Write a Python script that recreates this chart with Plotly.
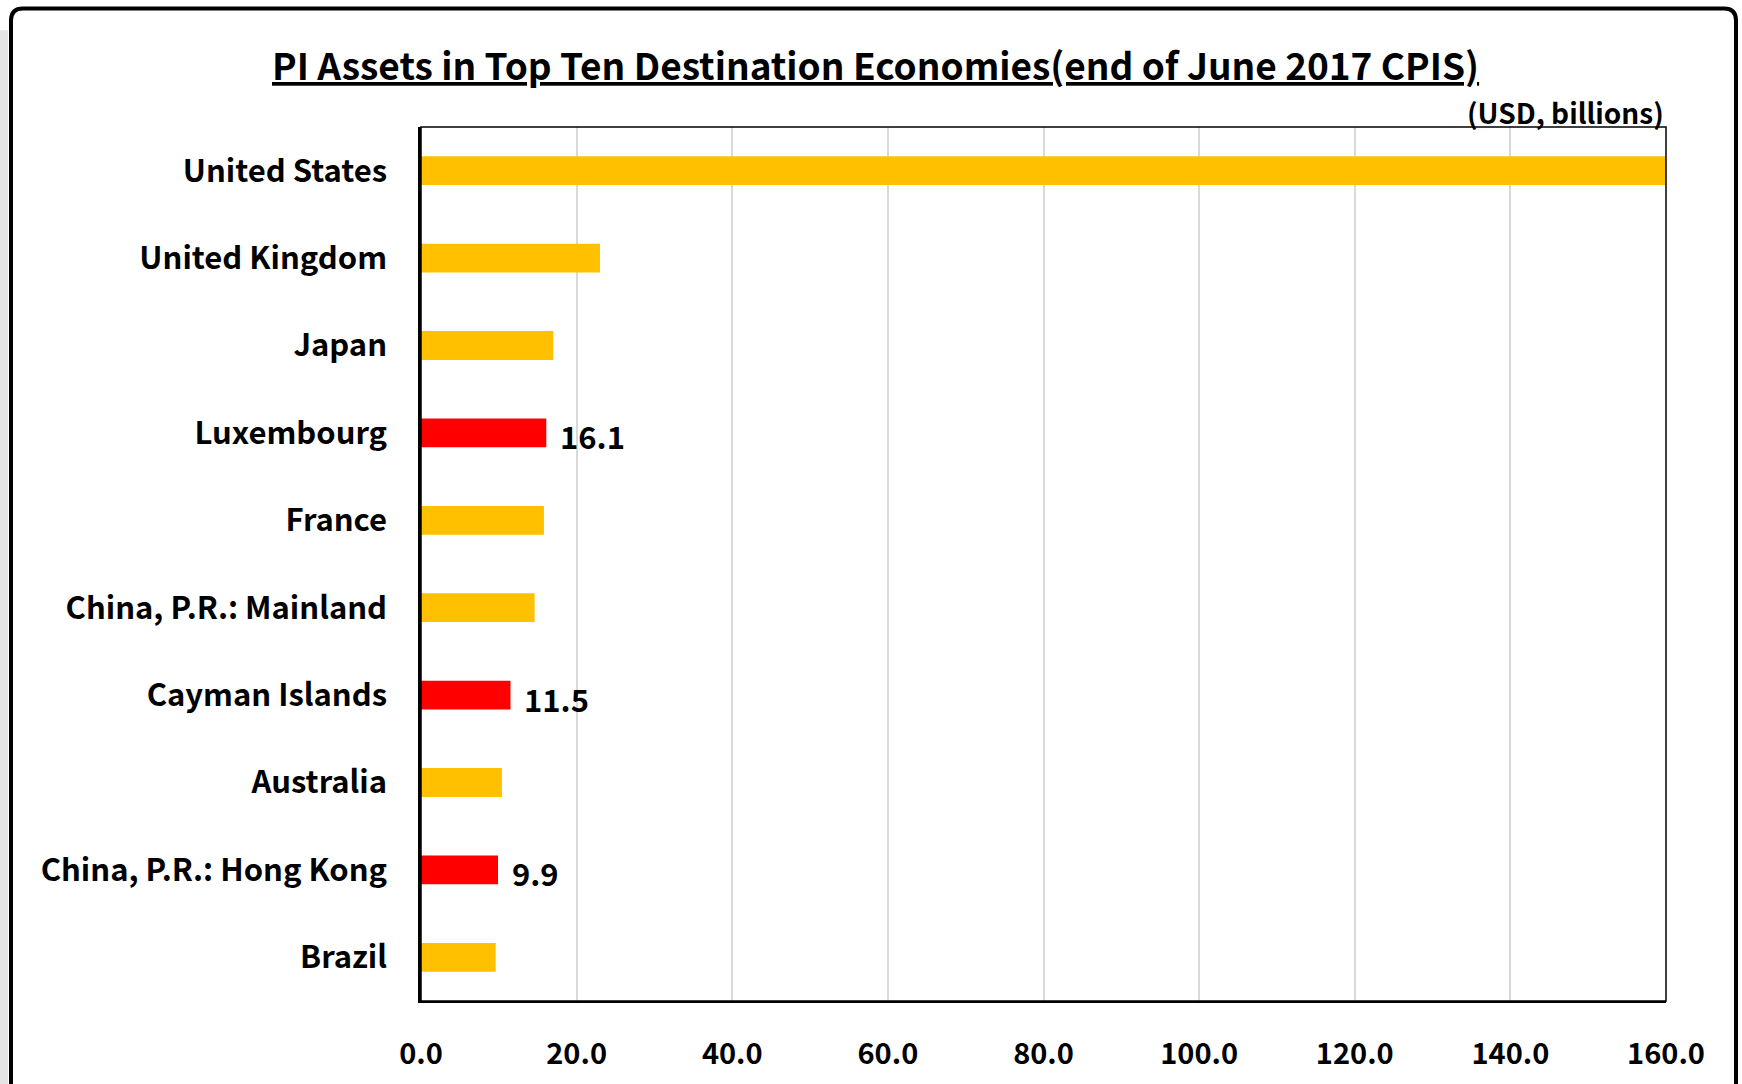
import plotly.graph_objects as go

countries = ["United States", "United Kingdom", "Japan", "Luxembourg", "France",
             "China, P.R.: Mainland", "Cayman Islands", "Australia",
             "China, P.R.: Hong Kong", "Brazil"]
values = [160.0, 23.0, 17.0, 16.1, 15.8, 14.6, 11.5, 10.4, 9.9, 9.6]
highlight = [False, False, False, True, False, False, True, False, True, False]
x_ticks = [0, 20, 40, 60, 80, 100, 120, 140, 160]
x_tick_labels = ["0.0", "20.0", "40.0", "60.0", "80.0", "100.0", "120.0", "140.0", "160.0"]
title_text = "PI Assets in Top Ten Destination Economies(end of June 2017 CPIS)"
unit_text = "(USD, billions)"

ORANGE = "#FFC000"
RED = "#FF0000"
FONT = "Noto Sans CJK KR"

W, H = 1742, 1084
L, R, T, B = 421, 1666, 127, 1004


def px(x):
    return (x - L) / (R - L)


def py(y):
    return (B - y) / (B - T)


colors = [RED if h else ORANGE for h in highlight]

fig = go.Figure(go.Bar(
    x=values, y=countries, orientation="h",
    marker=dict(color=colors, line=dict(width=0)),
    width=0.33,
))

annotations = []
for c, v, h in zip(countries, values, highlight):
    if h:
        annotations.append(dict(
            x=v, y=c, xref="x", yref="y", text=f"{v:.1f}", showarrow=False,
            xanchor="left", yanchor="middle", xshift=12, yshift=-3,
            font=dict(family=FONT, size=31, color="black", weight="bold"),
        ))

annotations.append(dict(
    x=px(875), y=py(64), xref="paper", yref="paper",
    text=f"<u>{title_text}</u>", showarrow=False,
    xanchor="center", yanchor="middle",
    font=dict(family=FONT, size=37, color="black", weight="bold"),
))
annotations.append(dict(
    x=1.0, y=py(112), xref="paper", yref="paper",
    text=unit_text, showarrow=False, xanchor="right", yanchor="middle",
    font=dict(family=FONT, size=28, color="black", weight="bold"),
))

# rounded outer frame
x0p, x1p = 11, 1736
y0p, y1p = 8, 1100
rad = 12
path = (f"M {px(x0p)},{py(y0p + rad)} "
        f"Q {px(x0p)},{py(y0p)} {px(x0p + rad)},{py(y0p)} "
        f"L {px(x1p - rad)},{py(y0p)} "
        f"Q {px(x1p)},{py(y0p)} {px(x1p)},{py(y0p + rad)} "
        f"L {px(x1p)},{py(y1p)} L {px(x0p)},{py(y1p)} Z")

shapes = [
    dict(type="rect", xref="paper", yref="paper", x0=px(0), x1=px(8),
         y0=py(30), y1=py(1100), fillcolor="#e4e4e4", line=dict(width=0), layer="below"),
    dict(type="path", xref="paper", yref="paper", path=path,
         line=dict(color="black", width=4), layer="above"),
    dict(type="rect", xref="paper", yref="paper", x0=0, x1=1, y0=0, y1=1,
         line=dict(color="black", width=1.5), layer="above"),
]

fig.update_layout(
    width=W, height=H,
    margin=dict(l=L, r=W - R, t=T, b=H - B),
    paper_bgcolor="white", plot_bgcolor="white",
    showlegend=False,
    bargap=0.67,
    annotations=annotations,
    shapes=shapes,
    xaxis=dict(
        range=[0, 160], tickvals=x_ticks, ticktext=x_tick_labels,
        showgrid=True, gridcolor="#d9d9d9", gridwidth=1.5,
        zeroline=False, showline=True, linecolor="black", linewidth=2,
        ticks="", ticklabelstandoff=26,
        tickfont=dict(family=FONT, size=29, color="black", weight="bold"),
    ),
    yaxis=dict(
        autorange="reversed", showgrid=False, zeroline=False,
        showline=True, linecolor="black", linewidth=2.5,
        ticks="", ticklabelstandoff=25,
        tickfont=dict(family=FONT, size=31, color="black", weight="bold"),
    ),
    font=dict(family=FONT, color="black"),
)

fig.write_html("out.html",
               config={"displayModeBar": False},
               post_script="document.body.style.margin='0';document.body.style.overflow='hidden';")
